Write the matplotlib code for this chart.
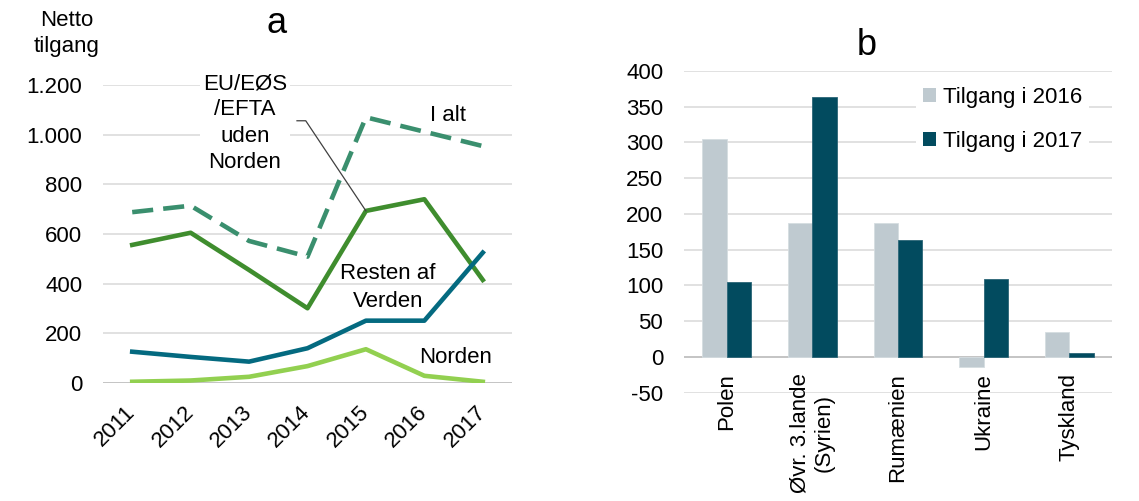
import matplotlib
matplotlib.use("Agg")
import matplotlib.pyplot as plt
from matplotlib.patches import Patch

plt.rcParams['font.family'] = ['Liberation Sans', 'DejaVu Sans']

# ---- Data panel a ----
years = ['2011', '2012', '2013', '2014', '2015', '2016', '2017']
i_alt = [688, 714, 572, 509, 1070, 1012, 954]
eu_uden_norden = [556, 605, 455, 301, 693, 740, 415]
resten = [126, 105, 86, 140, 251, 251, 525]
norden = [5, 10, 25, 68, 136, 29, 5]
yticks_a = [0, 200, 400, 600, 800, 1000, 1200]
yticklabels_a = ['0', '200', '400', '600', '800', '1.000', '1.200']

# ---- Data panel b ----
countries = ['Polen', 'Øvr. 3.lande\n(Syrien)', 'Rumænien', 'Ukraine', 'Tyskland']
tilgang_2016 = [305, 187, 187, -14, 35]
tilgang_2017 = [105, 364, 164, 109, 6]
yticks_b = [-50, 0, 50, 100, 150, 200, 250, 300, 350, 400]

FS = 16
GRID = '#d9d9d9'
ZERO = '#bfbfbf'

fig = plt.figure(figsize=(11.39, 5.01), dpi=100)

# ---------------- Panel a ----------------
axa = fig.add_axes([103/1139, 1-383/501, 409/1139, 298/501])
x = list(range(len(years)))
for v in yticks_a[1:]:
    axa.axhline(v, color=GRID, lw=1.1, zorder=0)
axa.axhline(0, color=ZERO, lw=1.3, zorder=0)

axa.plot(x, i_alt, color='#3a8f6e', lw=3.3, dashes=(4.6, 2.2), zorder=3)
axa.plot(x, eu_uden_norden, color='#3f8d2e', lw=3.3, zorder=3)
axa.plot(x, resten, color='#046a80', lw=3.3, zorder=3)
axa.plot(x, norden, color='#92d050', lw=3.3, zorder=3)

axa.set_xlim(-0.5, 6.5)
axa.set_ylim(0, 1200)
axa.set_yticks(yticks_a)
axa.set_yticklabels(yticklabels_a, fontsize=FS)
axa.set_xticks(x)
axa.set_xticklabels(years, fontsize=FS, rotation=45, ha='right', va='center',
                    rotation_mode='anchor')
axa.tick_params(axis='y', length=0, pad=15)
axa.tick_params(axis='x', length=0, pad=19)
for s in axa.spines.values():
    s.set_visible(False)

# leader line
axa.plot([2.82, 2.97, 4], [1056, 1056, eu_uden_norden[4]], color='#404040', lw=0.9,
         zorder=4, clip_on=False)
axa.text(1.93, 1047, 'EU/EØS\n/EFTA\nuden\nNorden', fontsize=FS, ha='center',
         va='center', linespacing=1.32,
         bbox=dict(facecolor='white', edgecolor='none', pad=2), zorder=5)
axa.text(5.41, 1079, 'I alt', fontsize=FS, ha='center', va='center', zorder=5)
axa.text(4.38, 385, 'Resten af\nVerden', fontsize=FS, ha='center', va='center',
         linespacing=1.4, zorder=5)
axa.text(5.54, 101, 'Norden', fontsize=FS, ha='center', va='center', zorder=5)

fig.text(67/1139, 1-33.5/501, 'Netto\ntilgang', fontsize=FS, ha='center',
         va='center', linespacing=1.3)
fig.text(277/1139, 1-33/501, 'a', fontsize=26, ha='center', va='baseline')

# ---------------- Panel b ----------------
axb = fig.add_axes([684/1139, 1-392.7/501, 428/1139, 321.7/501])
xb = list(range(len(countries)))
for v in yticks_b:
    if v != 0:
        axb.axhline(v, color=GRID, lw=1.1, zorder=0)
axb.axhline(0, color=ZERO, lw=1.3, zorder=1)
w = 0.286
axb.bar([i - w/2 for i in xb], tilgang_2016, width=w, color='#bfcad0',
        edgecolor='#d5dde1', linewidth=0.6, zorder=2, label='Tilgang i 2016')
axb.bar([i + w/2 for i in xb], tilgang_2017, width=w, color='#024b5f',
        edgecolor='#2a6577', linewidth=0.6, zorder=2, label='Tilgang i 2017')
axb.set_xlim(-0.5, 4.5)
axb.set_ylim(-50, 400)
axb.set_yticks(yticks_b)
axb.set_yticklabels([str(v) for v in yticks_b], fontsize=FS)
axb.spines['bottom'].set_position(('data', 0))
axb.set_xticks(xb)
axb.set_xticklabels(countries, fontsize=FS, rotation=90, ha='center', va='top')
for lab in axb.get_xticklabels():
    lab.set_multialignment('center')
axb.tick_params(axis='y', length=0, pad=15)
axb.tick_params(axis='x', length=0, pad=11.5)
for s in axb.spines.values():
    s.set_visible(False)

handles = [Patch(facecolor='#bfcad0', edgecolor='none'),
           Patch(facecolor='#024b5f', edgecolor='none')]
leg = axb.legend(handles, ['Tilgang i 2016', 'Tilgang i 2017'], fontsize=FS,
                 loc='upper left', bbox_to_anchor=(916/1139, 1-80/501),
                 bbox_transform=fig.transFigure, frameon=True, framealpha=1,
                 facecolor='white', edgecolor='none', fancybox=False,
                 handlelength=0.6, handleheight=0.6, handletextpad=0.3,
                 labelspacing=1.05, borderpad=0.3, borderaxespad=0)
fig.text(867/1139, 1-55/501, 'b', fontsize=26, ha='center', va='baseline')

fig.savefig('out.png', dpi=100)
